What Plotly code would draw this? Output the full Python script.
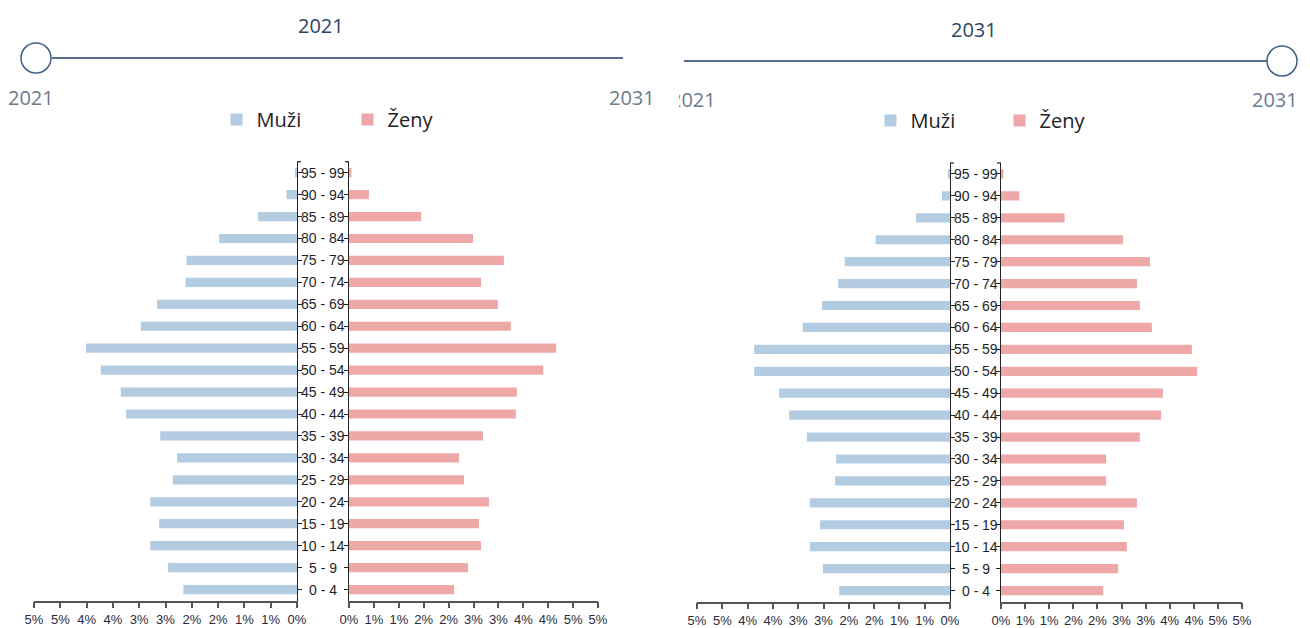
import plotly.graph_objects as go

W, H = 1310, 628

ages = ["0 - 4", "5 - 9", "10 - 14", "15 - 19", "20 - 24", "25 - 29", "30 - 34",
        "35 - 39", "40 - 44", "45 - 49", "50 - 54", "55 - 59", "60 - 64", "65 - 69",
        "70 - 74", "75 - 79", "80 - 84", "85 - 89", "90 - 94", "95 - 99"]

# percent of population, order matches `ages`
men_2021 = [2.16, 2.45, 2.79, 2.62, 2.79, 2.36, 2.28, 2.60, 3.25, 3.35,
            3.73, 4.01, 2.97, 2.66, 2.12, 2.10, 1.48, 0.74, 0.20, 0.04]
women_2021 = [2.11, 2.39, 2.65, 2.61, 2.81, 2.31, 2.21, 2.69, 3.35, 3.37,
              3.90, 4.16, 3.25, 2.99, 2.65, 3.11, 2.49, 1.45, 0.40, 0.05]
men_2031 = [2.19, 2.51, 2.77, 2.57, 2.77, 2.27, 2.25, 2.83, 3.18, 3.38,
            3.87, 3.87, 2.91, 2.53, 2.21, 2.08, 1.47, 0.67, 0.16, 0.03]
women_2031 = [2.12, 2.43, 2.61, 2.55, 2.82, 2.18, 2.18, 2.88, 3.32, 3.36,
              4.07, 3.96, 3.13, 2.88, 2.82, 3.09, 2.53, 1.32, 0.38, 0.05]

tick_vals = [0, 0.5, 1, 1.5, 2, 2.5, 3, 3.5, 4, 4.5, 5]
tick_text = ["0%", "1%", "1%", "2%", "2%", "3%", "3%", "4%", "4%", "5%", "5%"]

years = ["2021", "2031"]
series_names = ["Muži", "Ženy"]

MEN_COLOR = "#b4cce2"
WOMEN_COLOR = "#efa8a8"


def px(x):
    return x / W


def py(y):
    return 1 - y / H


fig = go.Figure()

panels = [
    dict(men=men_2021, women=women_2021, legend="legend",
         xm=(34, 297), xw=(349, 598), ydom=(161.7, 600.5), ax=("x", "y", "x2", "y2")),
    dict(men=men_2031, women=women_2031, legend="legend2",
         xm=(697, 950), xw=(1001, 1242), ydom=(163, 601.5), ax=("x3", "y3", "x4", "y4")),
]

layout = dict(
    width=W, height=H, margin=dict(l=0, r=0, t=0, b=0, pad=0, autoexpand=False),
    paper_bgcolor="white", plot_bgcolor="white",
    bargap=0.58,
    showlegend=True,
)

axfont = dict(family="Liberation Sans, Arial, sans-serif", size=13, color="#2b2b3a")
annotations = []
shapes = []

for i, p in enumerate(panels):
    xm, ym, xw, yw = p["ax"]
    fig.add_trace(go.Bar(y=ages, x=p["men"], orientation="h", name=series_names[0],
                         marker=dict(color=MEN_COLOR, line=dict(width=0)),
                         xaxis=xm, yaxis=ym, legend=p["legend"], hoverinfo="x+y"))
    fig.add_trace(go.Bar(y=ages, x=p["women"], orientation="h", name=series_names[1],
                         marker=dict(color=WOMEN_COLOR, line=dict(width=0)),
                         xaxis=xw, yaxis=yw, legend=p["legend"], hoverinfo="x+y"))

    ydomain = [py(p["ydom"][1]), py(p["ydom"][0])]
    xcommon = dict(tickvals=tick_vals, ticktext=tick_text, showline=True, linecolor="#555",
                   linewidth=1.5, ticks="outside", ticklen=6, tickcolor="#555", tickwidth=1.5,
                   showgrid=False, zeroline=False, tickfont=axfont, fixedrange=True,
                   automargin=False)
    ycommon = dict(type="category", range=[-0.5, 19.5], domain=ydomain, showline=True,
                   linecolor="#222", linewidth=1.2, ticks="outside", ticklen=4,
                   tickcolor="#222", showticklabels=False, showgrid=False, zeroline=False,
                   fixedrange=True, automargin=False)
    xm_key = "xaxis" if xm == "x" else "xaxis" + xm[1:]
    ym_key = "yaxis" if ym == "y" else "yaxis" + ym[1:]
    layout[xm_key] = dict(xcommon, domain=[px(p["xm"][0]), px(p["xm"][1])], range=[5, 0], anchor=ym)
    layout["xaxis" + xw[1:]] = dict(xcommon, domain=[px(p["xw"][0]), px(p["xw"][1])], range=[0, 5], anchor=yw)
    layout[ym_key] = dict(ycommon, anchor=xm, side="right")
    layout["yaxis" + yw[1:]] = dict(ycommon, anchor=xw, side="left")

    # outer end ticks of the two vertical axis lines
    for (x0, x1) in [(p["xm"][1], p["xm"][1] + 4), (p["xw"][0] - 4, p["xw"][0])]:
        shapes.append(dict(type="line", xref="paper", yref="paper",
                           x0=px(x0), x1=px(x1), y0=ydomain[1], y1=ydomain[1],
                           line=dict(color="#222", width=1.2)))

    xc = px((p["xm"][1] + p["xw"][0]) / 2)
    for a in ages:
        annotations.append(dict(x=xc, y=a, xref="paper", yref=ym, text=a, showarrow=False,
                                xanchor="center", yanchor="middle",
                                font=dict(family="Liberation Sans, Arial, sans-serif", size=14, color="#1e1e28")))

# legends
legfont = dict(family="Open Sans, sans-serif", size=20, color="#222")
layout["legend"] = dict(orientation="h", x=px(238.5 - 22), y=py(119.5), xanchor="left", yanchor="middle",
                        font=legfont, entrywidth=86, entrywidthmode="pixels",
                        bgcolor="rgba(0,0,0,0)", traceorder="normal", itemclick=False, itemdoubleclick=False)
layout["legend2"] = dict(orientation="h", x=px(892.5 - 22), y=py(120.5), xanchor="left", yanchor="middle",
                         font=legfont, entrywidth=84, entrywidthmode="pixels",
                         bgcolor="rgba(0,0,0,0)", traceorder="normal", itemclick=False, itemdoubleclick=False)

# slider decorations (year selector)
sliders_deco = [
    dict(title=years[0], tx=321, ty=26, line=(52, 623), ly=58, knob=36,
         lab_l=(31, 97), lab_r=(632, 97)),
    dict(title=years[1], tx=974, ty=29, line=(684, 1267), ly=61, knob=1282,
         lab_l=(692.5, 99), lab_r=(1275, 99)),
]
for s in sliders_deco:
    shapes.append(dict(type="line", xref="paper", yref="paper",
                       x0=px(s["line"][0]), x1=px(s["line"][1]), y0=py(s["ly"]), y1=py(s["ly"]),
                       line=dict(color="#1f3d6b", width=1.5)))
    r = 15
    shapes.append(dict(type="circle", xref="paper", yref="paper",
                       x0=px(s["knob"] - r), x1=px(s["knob"] + r),
                       y0=py(s["ly"] + r), y1=py(s["ly"] - r),
                       line=dict(color="#3f5f84", width=1.5), fillcolor="white"))
    annotations.append(dict(x=px(s["tx"]), y=py(s["ty"]), xref="paper", yref="paper", text=s["title"],
                            showarrow=False, xanchor="center", yanchor="middle",
                            font=dict(family="Open Sans, sans-serif", size=20, color="#2c4563")))
    annotations.append(dict(x=px(s["lab_l"][0]), y=py(s["lab_l"][1]), xref="paper", yref="paper",
                            text=years[0], showarrow=False, xanchor="center", yanchor="middle",
                            font=dict(family="Open Sans, sans-serif", size=20, color="#6b7b8c")))
    annotations.append(dict(x=px(s["lab_r"][0]), y=py(s["lab_r"][1]), xref="paper", yref="paper",
                            text=years[1], showarrow=False, xanchor="center", yanchor="middle",
                            font=dict(family="Open Sans, sans-serif", size=20, color="#6b7b8c")))

# the second panel's left end label is cut off by its frame edge: cover its first glyph
annotations.append(dict(x=px(679), y=py(99), xref="paper", yref="paper", text=" ",
                        showarrow=False, xanchor="right", yanchor="middle",
                        width=24, height=30, bgcolor="white", borderpad=0, borderwidth=0))

layout["annotations"] = annotations
layout["shapes"] = shapes
fig.update_layout(**layout)

fig.write_html(
    "out.html",
    config={"displayModeBar": False},
    post_script="document.body.style.margin='0';document.body.style.overflow='hidden';",
)
